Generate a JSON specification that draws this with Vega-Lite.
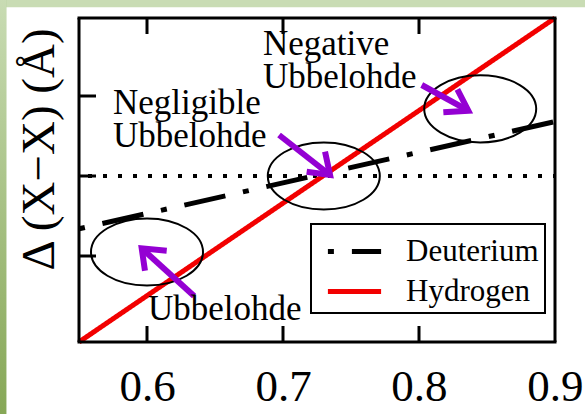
{
  "$schema": "https://vega.github.io/schema/vega-lite/v6.json",
  "width": 585,
  "height": 414,
  "autosize": {"type": "none"},
  "padding": 0,
  "background": "white",
  "config": {
    "view": {"stroke": null},
    "font": "Liberation Serif",
    "axis": {"domain": false, "grid": false, "ticks": false, "labelColor": "black", "titleColor": "black"},
    "legend": {
      "title": null,
      "orient": "none",
      "legendX": 311,
      "legendY": 224,
      "symbolType": "M-1.4,0L1.4,0",
      "symbolSize": 1444,
      "symbolStrokeWidth": 5,
      "symbolOffset": 16,
      "labelFont": "Liberation Serif",
      "labelFontSize": 31,
      "labelColor": "black",
      "labelOffset": 30,
      "labelBaseline": "middle",
      "rowPadding": 3,
      "padding": 6,
      "strokeColor": "black",
      "fillColor": "white",
      "strokeWidth": 2
    }
  },
  "datasets": {
    "single": [{}],
    "series": [
      {"series": "Deuterium", "x": 0.55, "y": -0.66},
      {"series": "Deuterium", "x": 0.9, "y": 0.68},
      {"series": "Hydrogen", "x": 0.55, "y": -2.075},
      {"series": "Hydrogen", "x": 0.9, "y": 1.975}
    ],
    "xticks": [{"x": 0.6}, {"x": 0.7}, {"x": 0.8}],
    "yticks": [{"y": -1}, {"y": 0}, {"y": 1}],
    "regions": [
      {"x": 0.6, "y": -0.95},
      {"x": 0.73, "y": 0.0},
      {"x": 0.845, "y": 0.84}
    ],
    "shafts": [
      {"arrow": "negative", "x": 0.802, "y": 1.1375, "x2": 0.8363, "y2": 0.816},
      {"arrow": "negligible", "x": 0.6971, "y": 0.5125, "x2": 0.7346, "y2": 0.0125},
      {"arrow": "normal", "x": 0.6346, "y": -1.5, "x2": 0.5961, "y2": -0.904}
    ],
    "heads": [
      {"arrow": "negative", "k": 0, "x": 0.8282, "y": 1.084},
      {"arrow": "negative", "k": 1, "x": 0.8363, "y": 0.816},
      {"arrow": "negative", "k": 2, "x": 0.8179, "y": 0.796},
      {"arrow": "negligible", "k": 0, "x": 0.7309, "y": 0.304},
      {"arrow": "negligible", "k": 1, "x": 0.7346, "y": 0.0125},
      {"arrow": "negligible", "k": 2, "x": 0.7174, "y": 0.054},
      {"arrow": "normal", "k": 0, "x": 0.6145, "y": -0.934},
      {"arrow": "normal", "k": 1, "x": 0.5961, "y": -0.904},
      {"arrow": "normal", "k": 2, "x": 0.5985, "y": -1.184}
    ],
    "notes": [
      {"label": "Negative\nUbbelohde", "x": 0.6853, "y": 1.5125},
      {"label": "Negligible\nUbbelohde", "x": 0.575, "y": 0.775},
      {"label": "Ubbelohde", "x": 0.6007, "y": -1.8}
    ]
  },
  "layer": [
    {
      "description": "top band of the slide frame, carrying the scales",
      "data": {"name": "single"},
      "mark": {"type": "rule", "color": "#c9dcb4", "strokeWidth": 7.5},
      "encoding": {
        "x": {"datum": 0.49191, "type": "quantitative", "scale": {"domain": [0.49191, 0.92206], "nice": false, "zero": false},
          "axis": {"orient": "bottom", "title": null, "values": [0.6, 0.7, 0.8, 0.9], "format": ".1f",
            "labelFontSize": 45, "labelFont": "Liberation Serif", "labelBaseline": "alphabetic", "labelPadding": -14,
            "labelFlush": false, "labelOverlap": false}},
        "x2": {"datum": 0.92206},
        "y": {"datum": 2.1563, "type": "quantitative", "scale": {"domain": [-2.975, 2.2], "nice": false, "zero": false},
          "axis": {"orient": "left", "title": "Δ (X−X) (Å)", "values": [-1, 0, 1], "labels": false,
            "titleFont": "Liberation Serif", "titleFontSize": 47, "titleFontWeight": "normal", "titleAngle": -90,
            "titleX": 53, "titleY": 149, "titleAlign": "center", "titleBaseline": "alphabetic"}}
      }
    },
    {
      "description": "left band of the slide frame, flat base colour",
      "data": {"name": "single"},
      "mark": {"type": "rule", "color": "#a9c48a", "strokeWidth": 6.5},
      "encoding": {
        "x": {"datum": 0.4941, "type": "quantitative"},
        "y": {"datum": 2.2, "type": "quantitative"},
        "y2": {"datum": -2.975}
      }
    },
    {
      "description": "left band shading, darker downwards",
      "data": {"name": "single"},
      "mark": {
        "type": "point", "shape": "M-0.016,-1L0.016,-1L0.016,1L-0.016,1Z", "size": 176400,
        "filled": true, "opacity": 1,
        "fill": {"gradient": "linear", "x1": 0, "y1": 0, "x2": 0, "y2": 1,
          "stops": [{"offset": 0, "color": "#c9dcb4"}, {"offset": 1, "color": "#86a756"}]}
      },
      "encoding": {
        "x": {"datum": 0.4941, "type": "quantitative"},
        "y": {"datum": -0.3875, "type": "quantitative"}
      }
    },
    {
      "description": "zero reference",
      "data": {"name": "single"},
      "mark": {"type": "rule", "color": "black", "strokeWidth": 4, "strokeDash": [4, 11], "strokeDashOffset": 6},
      "encoding": {
        "x": {"datum": 0.55, "type": "quantitative"},
        "x2": {"datum": 0.9},
        "y": {"datum": 0, "type": "quantitative"}
      }
    },
    {
      "data": {"name": "series"},
      "mark": {"type": "line", "strokeWidth": 5, "strokeCap": "butt"},
      "encoding": {
        "x": {"field": "x", "type": "quantitative"},
        "y": {"field": "y", "type": "quantitative"},
        "color": {"field": "series", "type": "nominal",
          "scale": {"domain": ["Deuterium", "Hydrogen"], "range": ["black", "#f20000"]}},
        "strokeDash": {"field": "series", "type": "nominal",
          "scale": {"domain": ["Deuterium", "Hydrogen"], "range": [[6, 18, 42, 18], [1, 0]]}}
      }
    },
    {
      "description": "plot frame, bottom",
      "data": {"name": "single"},
      "mark": {"type": "rule", "color": "black", "strokeWidth": 3},
      "encoding": {
        "x": {"datum": 0.5489, "type": "quantitative"}, "x2": {"datum": 0.9011},
        "y": {"datum": -2.075, "type": "quantitative"}
      }
    },
    {
      "description": "plot frame, top",
      "data": {"name": "single"},
      "mark": {"type": "rule", "color": "black", "strokeWidth": 3},
      "encoding": {
        "x": {"datum": 0.5489, "type": "quantitative"}, "x2": {"datum": 0.9011},
        "y": {"datum": 1.975, "type": "quantitative"}
      }
    },
    {
      "description": "plot frame, left",
      "data": {"name": "single"},
      "mark": {"type": "rule", "color": "black", "strokeWidth": 3},
      "encoding": {
        "x": {"datum": 0.55, "type": "quantitative"},
        "y": {"datum": -2.075, "type": "quantitative"}, "y2": {"datum": 1.975}
      }
    },
    {
      "description": "plot frame, right",
      "data": {"name": "single"},
      "mark": {"type": "rule", "color": "black", "strokeWidth": 3},
      "encoding": {
        "x": {"datum": 0.9, "type": "quantitative"},
        "y": {"datum": -2.075, "type": "quantitative"}, "y2": {"datum": 1.975}
      }
    },
    {
      "description": "inward ticks, bottom edge",
      "data": {"name": "xticks"},
      "mark": {"type": "rule", "color": "black", "strokeWidth": 3},
      "encoding": {
        "x": {"field": "x", "type": "quantitative"},
        "y": {"datum": -2.075, "type": "quantitative"},
        "y2": {"datum": -1.875}
      }
    },
    {
      "description": "inward ticks, top edge",
      "data": {"name": "xticks"},
      "mark": {"type": "rule", "color": "black", "strokeWidth": 3},
      "encoding": {
        "x": {"field": "x", "type": "quantitative"},
        "y": {"datum": 1.975, "type": "quantitative"},
        "y2": {"datum": 1.775}
      }
    },
    {
      "description": "inward ticks, left edge",
      "data": {"name": "yticks"},
      "mark": {"type": "rule", "color": "black", "strokeWidth": 3},
      "encoding": {
        "y": {"field": "y", "type": "quantitative"},
        "x": {"datum": 0.55, "type": "quantitative"},
        "x2": {"datum": 0.5625}
      }
    },
    {
      "data": {"name": "regions"},
      "mark": {"type": "point", "shape": "M-1,0A1,0.6,0,1,0,1,0A1,0.6,0,1,0,-1,0Z", "filled": false,
        "stroke": "black", "strokeWidth": 2, "size": 12544, "opacity": 1},
      "encoding": {
        "x": {"field": "x", "type": "quantitative"},
        "y": {"field": "y", "type": "quantitative"}
      }
    },
    {
      "data": {"name": "shafts"},
      "mark": {"type": "rule", "color": "#9400d3", "strokeWidth": 6},
      "encoding": {
        "x": {"field": "x", "type": "quantitative"},
        "y": {"field": "y", "type": "quantitative"},
        "x2": {"field": "x2"},
        "y2": {"field": "y2"}
      }
    },
    {
      "data": {"name": "heads"},
      "mark": {"type": "line", "color": "#9400d3", "strokeWidth": 6, "strokeJoin": "miter"},
      "encoding": {
        "x": {"field": "x", "type": "quantitative"},
        "y": {"field": "y", "type": "quantitative"},
        "detail": {"field": "arrow"},
        "order": {"field": "k"}
      }
    },
    {
      "data": {"name": "notes"},
      "mark": {"type": "text", "align": "left", "baseline": "alphabetic", "font": "Liberation Serif",
        "fontSize": 35, "lineHeight": 33, "lineBreak": "\n", "color": "black"},
      "encoding": {
        "x": {"field": "x", "type": "quantitative"},
        "y": {"field": "y", "type": "quantitative"},
        "text": {"field": "label"}
      }
    }
  ]
}
